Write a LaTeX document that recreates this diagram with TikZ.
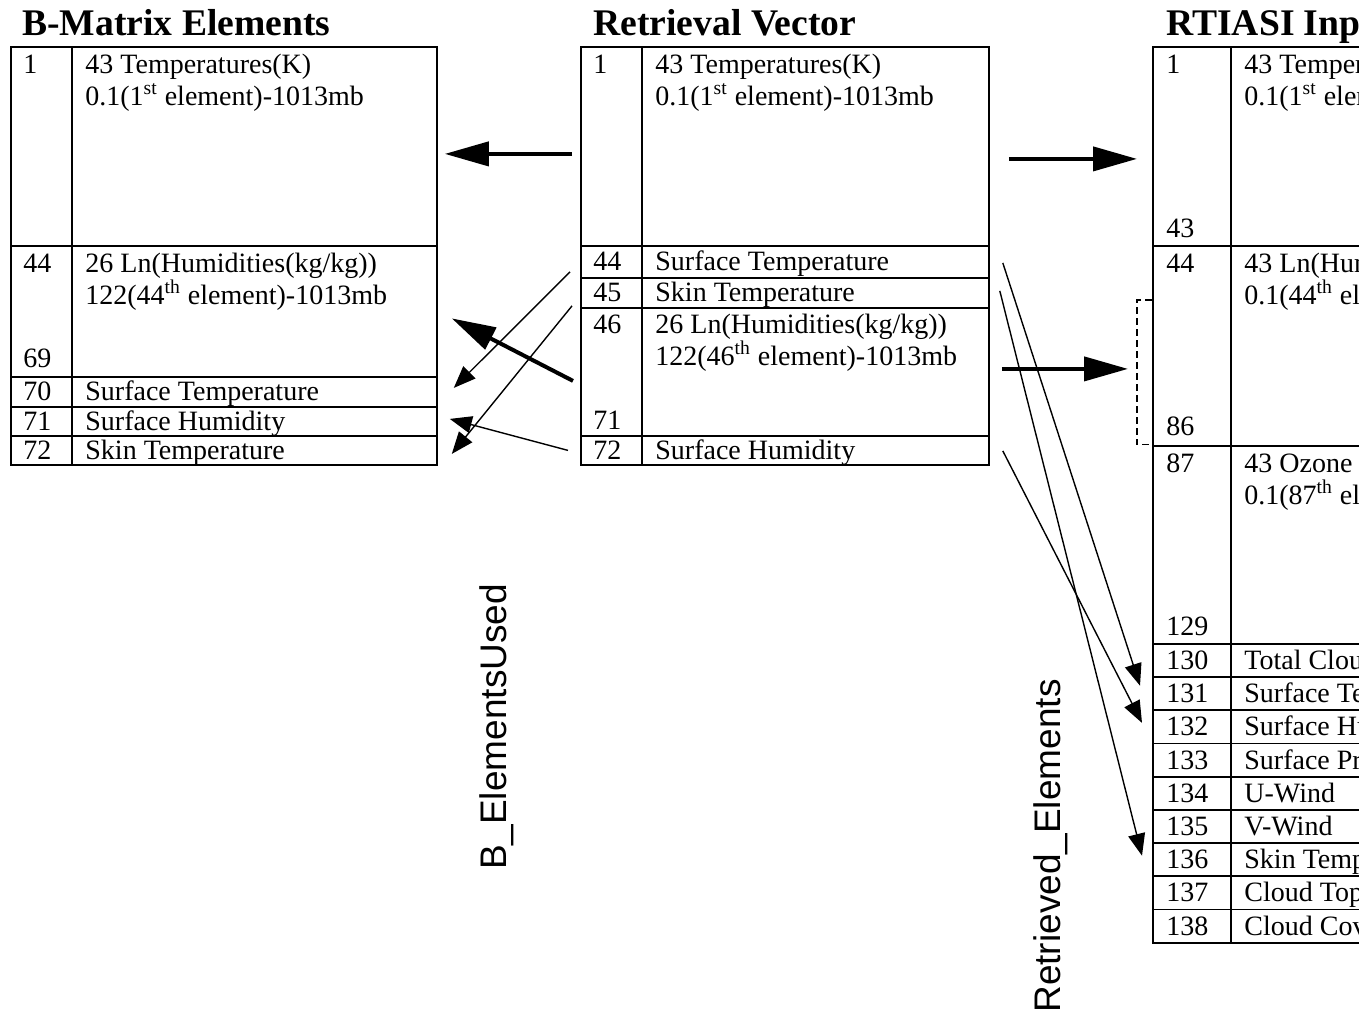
\documentclass[tikz,border=0pt]{standalone}
\usepackage{fontspec}
\setmainfont{Liberation Serif}
\setsansfont{Liberation Sans}
\usetikzlibrary{arrows.meta, calc}

\begin{document}
\begin{tikzpicture}[x=0.5pt, y=-0.5pt,
  rowbox/.style={draw, rectangle, anchor=north west, inner sep=0pt, line width=0.9pt},
  btab/.style={rowbox, minimum width=213pt},
  rtab/.style={rowbox, minimum width=204pt},
  ttab/.style={rowbox, minimum width=174pt},
  divider/.style={line width=0.9pt},
  cell/.style={font=\fontsize{14}{16}\selectfont, anchor=base west, inner sep=0pt, align=left},
  ttl/.style={font=\bfseries\fontsize{18.8}{22}\selectfont, anchor=base west, inner sep=0pt},
  vlab/.style={font=\sffamily\fontsize{18.5}{22}\selectfont, rotate=90, inner sep=0pt},
  fatarr/.style={-{Triangle[length=22pt, width=12pt]}, line width=2pt},
  thinarr/.style={-{Triangle[length=11pt, width=8.5pt]}, line width=0.7pt},
  bracket/.style={dash pattern=on 3.5pt off 2pt, line width=0.6pt},
]
\useasboundingbox (0,0) rectangle (1359,1017);
\clip (0,0) rectangle (1359,1017);

% ---- B-Matrix table (left) ----
\node[ttl] (bttl) at (22,35) {B-Matrix Elements};
\node[btab, minimum height=99.5pt] (B1) at (10,46) {};
\node[btab, minimum height=65.5pt] (B44) at (10,245) {};
\node[cell] (B1n) at ($(B1.north west)+(13,27)$) {1};
\node[cell] (B1t) at ($(B1.north west)+(75,59)$) {43 Temperatures(K)\\0.1(1\textsuperscript{st} element)-1013mb};
\node[cell] (B44n) at ($(B44.north west)+(13,27)$) {44};
\node[cell] (B69n) at ($(B44.south west)+(13,-10)$) {69};
\node[cell] (B44t) at ($(B44.north west)+(75,59)$) {26 Ln(Humidities(kg/kg))\\122(44\textsuperscript{th} element)-1013mb};
\foreach \n/\y/\h/\t in {70/376/15pt/Surface Temperature, 71/406/14.5pt/Surface Humidity, 72/435/14.5pt/Skin Temperature}{
  \node[btab, minimum height=\h] (B\n) at (10,\y) {};
  \node[cell] (B\n-n) at ($(B\n.west)+(13,9)$) {\n};
  \node[cell] (B\n-t) at ($(B\n.west)+(75,9)$) {\t};
}
\draw[divider] ($(B1.north west)+(62,0)$) -- ($(B72.south west)+(62,0)$);

% ---- Retrieval vector (middle) ----
\node[ttl] (rttl) at (593,35) {Retrieval Vector};
\node[rtab, minimum height=99.5pt] (R1) at (580,46) {};
\node[rtab, minimum height=64pt] (R46) at (580,307) {};
\node[cell] (R1n) at ($(R1.north west)+(13,27)$) {1};
\node[cell] (R1t) at ($(R1.north west)+(75,59)$) {43 Temperatures(K)\\0.1(1\textsuperscript{st} element)-1013mb};
\node[cell] (R46n) at ($(R46.north west)+(13,26)$) {46};
\node[cell] (R71n) at ($(R46.south west)+(13,-7)$) {71};
\node[cell] (R46t) at ($(R46.north west)+(75,58)$) {26 Ln(Humidities(kg/kg))\\122(46\textsuperscript{th} element)-1013mb};
\foreach \n/\y/\h/\t in {44/245/16pt/Surface Temperature, 45/277/15pt/Skin Temperature, 72/435/14.5pt/Surface Humidity}{
  \node[rtab, minimum height=\h] (R\n) at (580,\y) {};
  \node[cell] (R\n-n) at ($(R\n.west)+(13,9)$) {\n};
  \node[cell] (R\n-t) at ($(R\n.west)+(75,9)$) {\t};
}
\draw[divider] ($(R1.north west)+(62,0)$) -- ($(R72.south west)+(62,0)$);

% ---- RTIASI input (right) ----
\node[ttl] (tttl) at (1166,35) {RTIASI Input};
\node[ttab, minimum height=99.5pt] (T1) at (1152,46) {};
\node[ttab, minimum height=100pt] (T44) at (1152,245) {};
\node[ttab, minimum height=99pt] (T87) at (1152,445) {};
\node[cell] (T1n) at ($(T1.north west)+(14,27)$) {1};
\node[cell] (T43n) at ($(T1.south west)+(14,-9)$) {43};
\node[cell] (T1t) at ($(T1.north west)+(92,59)$) {43 Temperatures(K)\\0.1(1\textsuperscript{st} element)-1013mb};
\node[cell] (T44n) at ($(T44.north west)+(14,27)$) {44};
\node[cell] (T86n) at ($(T44.south west)+(14,-11)$) {86};
\node[cell] (T44t) at ($(T44.north west)+(92,59)$) {43 Ln(Humidities(kg/kg))\\0.1(44\textsuperscript{th} element)-1013mb};
\node[cell] (T87n) at ($(T87.north west)+(14,27)$) {87};
\node[cell] (T129n) at ($(T87.south west)+(14,-9)$) {129};
\node[cell] (T87t) at ($(T87.north west)+(92,59)$) {43 Ozone\\0.1(87\textsuperscript{th} element)-1013mb};
\foreach \n/\t [count=\k from 0] in {130/Total Cloud, 131/Surface Temperature, 132/Surface Humidity, 133/Surface Pressure, 134/U-Wind, 135/V-Wind, 136/Skin Temperature, 137/Cloud Top Pressure, 138/Cloud Cover}{
  \node[ttab, minimum height=16.6pt] (T\n) at (1152,{643+33.2*\k}) {};
  \node[cell] (T\n-n) at ($(T\n.west)+(14,9)$) {\n};
  \node[cell] (T\n-t) at ($(T\n.west)+(92,9)$) {\t};
}
\draw[divider] ($(T1.north west)+(79,0)$) -- ($(T138.south west)+(79,0)$);
\draw[bracket] ($(T44.north west)+(0,55)$) -- ++(-15,0) |- ($(T44.south west)+(0,-2)$);

% ---- labels ----
\node[vlab] (bused) at (497,727) {B\_ElementsUsed};
\node[vlab] (retel) at (1051,846) {Retrieved\_Elements};

% ---- arrows ----
\draw[fatarr] ($(R1.west)+(-8,7.5)$) -- ($(B1.east)+(7,7.5)$);
\draw[fatarr] ($(R1.east)+(19,12.5)$) -- ($(T1.west)+(-15,12.5)$);
\draw[fatarr] ($(R46.east)+(12,-3)$) -- ($(T44.west)+(-24,23)$);
\draw[fatarr] ($(R46.west)+(-7,9)$) -- ($(B44.east)+(14,7)$);
\draw[thinarr] ($(R44.west)+(-10,10)$) -- ($(B70.east)+(16,-4)$);
\draw[thinarr] ($(R45.west)+(-8,13)$) -- ($(B72.east)+(14,3.5)$);
\draw[thinarr] ($(R72.west)+(-12,0)$) -- ($(B71.east)+(12,-2.5)$);
\draw[thinarr] ($(R44.east)+(13,1)$) -- ($(T131.west)+(-12,-8)$);
\draw[thinarr] ($(R45.east)+(10,-2)$) -- ($(T136.west)+(-10,-4)$);
\draw[thinarr] ($(R72.east)+(13,0.5)$) -- ($(T132.west)+(-10,-4)$);

\end{tikzpicture}
\end{document}
